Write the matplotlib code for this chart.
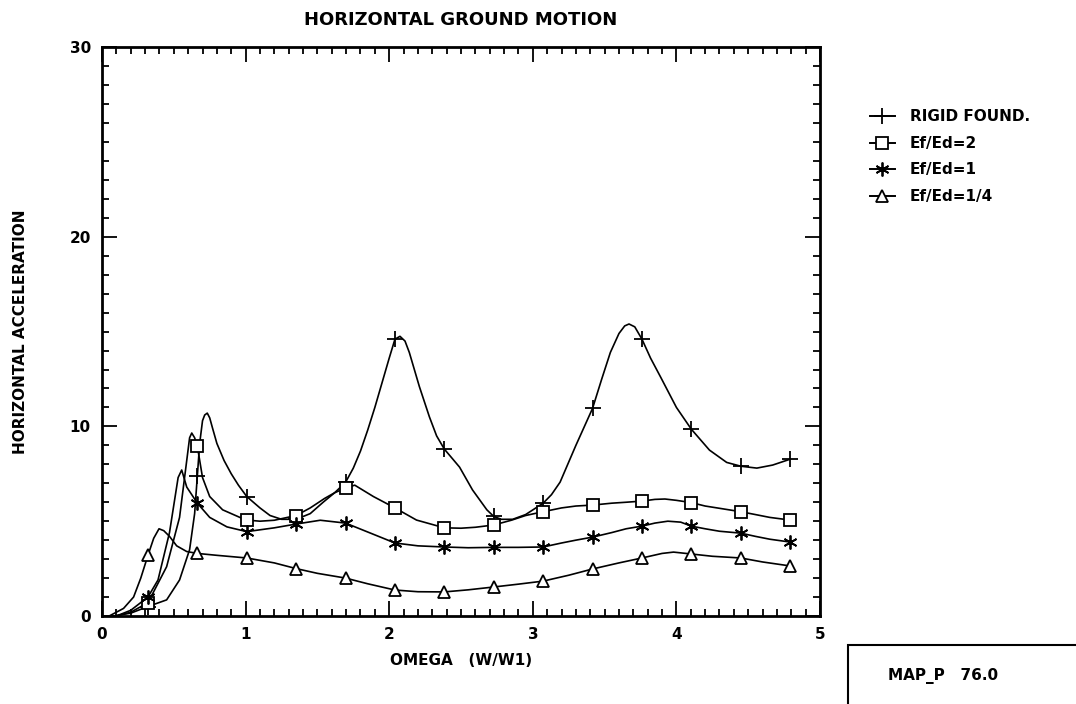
import matplotlib
matplotlib.use("Agg")
import matplotlib.pyplot as plt
from matplotlib.lines import Line2D
from matplotlib.patches import Rectangle
from matplotlib.ticker import MultipleLocator

# marker positions (omega) shared by all curves
mark_x = [0.32, 0.664, 1.008, 1.352, 1.696, 2.04, 2.384, 2.728, 3.072, 3.416, 3.76, 4.104, 4.448, 4.792]

# rigid foundation
rigid_x = [0.08, 0.2, 0.32, 0.45, 0.54, 0.61, 0.645, 0.664, 0.68, 0.70, 0.715, 0.733, 0.75, 0.77, 0.8, 0.85,
           0.9, 0.95, 1.008, 1.1, 1.17, 1.25, 1.352, 1.45, 1.54, 1.62, 1.696, 1.75, 1.8, 1.85, 1.9, 1.95,
           2.0, 2.04, 2.075, 2.11, 2.14, 2.21, 2.28, 2.33, 2.384, 2.44, 2.49, 2.58, 2.68, 2.728, 2.78, 2.86,
           2.95, 3.072, 3.13, 3.19, 3.3, 3.416, 3.48, 3.54, 3.6, 3.64, 3.67, 3.71, 3.76, 3.82, 3.89, 4.0,
           4.104, 4.23, 4.35, 4.448, 4.56, 4.67, 4.792]
rigid_y = [0.0, 0.15, 0.5, 0.85, 1.9, 3.5, 5.4, 7.4, 9.1, 10.3, 10.6, 10.7, 10.45, 9.9, 9.1, 8.2,
           7.5, 6.9, 6.3, 5.7, 5.3, 5.1, 5.1, 5.4, 6.0, 6.5, 7.05, 7.8, 8.7, 9.8, 11.0, 12.3,
           13.6, 14.6, 14.75, 14.5, 13.9, 12.1, 10.5, 9.5, 8.8, 8.3, 7.85, 6.65, 5.6, 5.25, 5.1, 5.1,
           5.35, 5.95, 6.4, 7.06, 9.0, 10.95, 12.5, 13.9, 14.9, 15.3, 15.4, 15.25, 14.6, 13.6, 12.6, 11.0,
           9.85, 8.75, 8.1, 7.9, 7.8, 7.96, 8.27]
rigid_m = [0.5, 7.4, 6.3, 5.1, 7.05, 14.6, 8.8, 5.25, 5.95, 10.95, 14.6, 9.85, 7.9, 8.27]

# Ef/Ed = 2
sq_x = [0.1, 0.2, 0.32, 0.45, 0.54, 0.59, 0.61, 0.625, 0.645, 0.664, 0.7, 0.75, 0.84, 0.96, 1.008, 1.1,
        1.2, 1.352, 1.45, 1.55, 1.62, 1.696, 1.76, 1.89, 2.04, 2.19, 2.384, 2.5, 2.6, 2.728, 2.85, 2.95,
        3.072, 3.2, 3.3, 3.416, 3.55, 3.65, 3.76, 3.85, 3.92, 4.0, 4.104, 4.2, 4.3, 4.448, 4.55, 4.65, 4.792]
sq_y = [0.0, 0.2, 0.7, 2.6, 5.2, 8.2, 9.4, 9.65, 9.4, 8.95, 7.3, 6.3, 5.6, 5.2, 5.06, 5.0,
        5.05, 5.3, 5.7, 6.2, 6.5, 6.75, 6.9, 6.3, 5.7, 5.06, 4.65, 4.63, 4.68, 4.8, 5.05, 5.3,
        5.5, 5.7, 5.8, 5.85, 5.95, 6.0, 6.06, 6.15, 6.17, 6.1, 5.98, 5.8, 5.68, 5.5, 5.35, 5.2, 5.06]
sq_m = [0.7, 8.95, 5.06, 5.3, 6.75, 5.7, 4.65, 4.8, 5.5, 5.85, 6.06, 5.98, 5.5, 5.06]

# Ef/Ed = 1
st_x = [0.1, 0.2, 0.32, 0.39, 0.47, 0.53, 0.555, 0.59, 0.664, 0.75, 0.87, 1.008, 1.2, 1.352, 1.52, 1.696,
        1.87, 2.04, 2.2, 2.384, 2.55, 2.728, 2.9, 3.072, 3.2, 3.3, 3.416, 3.55, 3.65, 3.76, 3.85, 3.94,
        4.03, 4.104, 4.2, 4.3, 4.448, 4.55, 4.65, 4.792]
st_y = [0.0, 0.3, 1.0, 1.9, 4.4, 7.3, 7.7, 6.8, 5.95, 5.2, 4.7, 4.45, 4.65, 4.85, 5.05, 4.9,
        4.37, 3.85, 3.7, 3.64, 3.6, 3.62, 3.62, 3.64, 3.85, 4.0, 4.16, 4.4, 4.6, 4.74, 4.9, 5.0,
        4.95, 4.74, 4.6, 4.47, 4.37, 4.2, 4.05, 3.9]
st_m = [1.0, 5.95, 4.45, 4.85, 4.9, 3.85, 3.64, 3.62, 3.64, 4.16, 4.74, 4.74, 4.37, 3.9]

# Ef/Ed = 1/4
tr_x = [0.05, 0.15, 0.22, 0.27, 0.32, 0.36, 0.397, 0.43, 0.47, 0.52, 0.59, 0.664, 0.8, 1.008, 1.2, 1.352,
        1.5, 1.696, 1.85, 2.04, 2.2, 2.384, 2.55, 2.728, 2.9, 3.072, 3.25, 3.416, 3.6, 3.76, 3.9, 3.98,
        4.104, 4.25, 4.448, 4.6, 4.792]
tr_y = [0.0, 0.4, 1.0, 2.0, 3.2, 4.1, 4.6, 4.5, 4.2, 3.7, 3.4, 3.3, 3.2, 3.06, 2.8, 2.5,
        2.25, 2.0, 1.7, 1.37, 1.28, 1.27, 1.38, 1.53, 1.68, 1.84, 2.15, 2.48, 2.8, 3.06, 3.3, 3.37,
        3.27, 3.15, 3.06, 2.85, 2.64]
tr_m = [3.2, 3.3, 3.06, 2.5, 2.0, 1.37, 1.27, 1.53, 1.84, 2.48, 3.06, 3.27, 3.06, 2.64]

labels = ["RIGID FOUND.", "Ef/Ed=2", "Ef/Ed=1", "Ef/Ed=1/4"]

plt.rcParams['font.family'] = ['DejaVu Sans']
plt.rcParams['font.weight'] = 'bold'

fig = plt.figure(figsize=(10.76, 7.04), dpi=100)
ax = fig.add_axes([0.0948, 0.125, 0.6673, 0.808])

asterisk = (6, 2, 0)
styles = [
    (rigid_x, rigid_y, rigid_m, dict(marker='+', markersize=11, mew=1.3)),
    (sq_x, sq_y, sq_m, dict(marker='s', markersize=8, mew=1.3, mfc='white')),
    (st_x, st_y, st_m, dict(marker=asterisk, markersize=10, mew=1.3)),
    (tr_x, tr_y, tr_m, dict(marker='^', markersize=8, mew=1.3, mfc='white')),
]

handles = []
for (cx, cy, my, mk), lab in zip(styles, labels):
    ax.plot(cx, cy, color='black', lw=1.2)
    ax.plot(mark_x, my, ls='none', color='black', mec='black', **mk)
    handles.append(Line2D([], [], color='black', lw=1.4, mec='black', **mk))

ax.set_xlim(0, 5)
ax.set_ylim(0, 30)
ax.xaxis.set_major_locator(MultipleLocator(1))
ax.xaxis.set_minor_locator(MultipleLocator(0.1))
ax.yaxis.set_major_locator(MultipleLocator(10))
ax.yaxis.set_minor_locator(MultipleLocator(1))
ax.tick_params(which='both', direction='in', top=True, right=True, width=1.3, labelsize=11)
ax.tick_params(which='major', length=11, pad=8)
ax.tick_params(which='minor', length=5)
for sp in ax.spines.values():
    sp.set_linewidth(2)

ax.set_title("HORIZONTAL GROUND MOTION", fontsize=13, fontweight='bold', pad=16)
ax.set_xlabel("OMEGA   (W/W1)", fontsize=11, fontweight='bold', labelpad=8)
ax.set_ylabel("HORIZONTAL ACCELERATION", fontsize=11, fontweight='bold', labelpad=30)

fig.legend(handles, labels, loc='upper left', bbox_to_anchor=(0.796, 0.864), frameon=False,
           handlelength=1.6, handletextpad=1.0, labelspacing=0.75, prop={'size': 11, 'weight': 'bold'})

fig.patches.append(Rectangle((848 / 1076, -0.05), 0.3, 0.05 + (704 - 645) / 704, transform=fig.transFigure,
                             fill=False, edgecolor='black', lw=1.5))
fig.text(888 / 1076, 1 - 676 / 704, "MAP_P   76.0", fontsize=11, fontweight='bold', va='center')

fig.savefig("out.png", dpi=100)
